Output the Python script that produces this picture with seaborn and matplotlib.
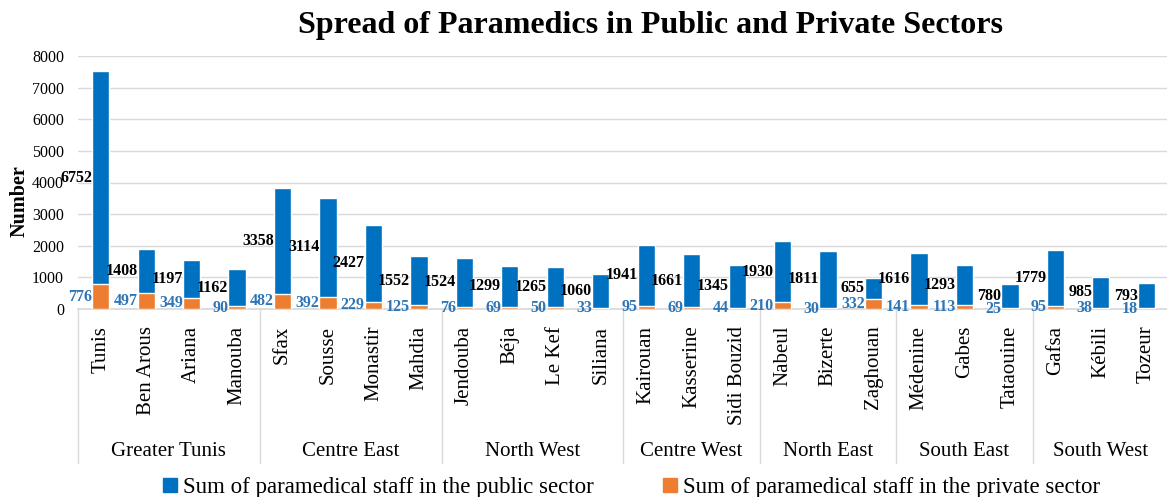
import matplotlib
matplotlib.use("Agg")
import matplotlib.pyplot as plt
import matplotlib.transforms as mtransforms
from matplotlib.lines import Line2D
import pandas as pd
import seaborn as sns

# Governorates grouped by region
regions = ["Greater Tunis", "Centre East", "North West", "Centre West",
           "North East", "South East", "South West"]
region_sizes = [4, 4, 4, 3, 3, 3, 3]
governorates = ["Tunis", "Ben Arous", "Ariana", "Manouba",
                "Sfax", "Sousse", "Monastir", "Mahdia",
                "Jendouba", "Béja", "Le Kef", "Siliana",
                "Kairouan", "Kasserine", "Sidi Bouzid",
                "Nabeul", "Bizerte", "Zaghouan",
                "Médenine", "Gabes", "Tataouine",
                "Gafsa", "Kébili", "Tozeur"]
public_staff = [6752, 1408, 1197, 1162,
                3358, 3114, 2427, 1552,
                1524, 1299, 1265, 1060,
                1941, 1661, 1345,
                1930, 1811, 655,
                1616, 1293, 780,
                1779, 985, 793]
private_staff = [776, 497, 349, 90,
                 482, 392, 229, 125,
                 76, 69, 50, 33,
                 95, 69, 44,
                 210, 30, 332,
                 141, 113, 25,
                 95, 38, 18]
y_ticks = [0, 1000, 2000, 3000, 4000, 5000, 6000, 7000, 8000]

BLUE = "#0070C0"
ORANGE = "#ED7D31"
LABEL_BLUE = "#2E75B6"
GRID = "#D9D9D9"

df = pd.DataFrame({
    "governorate": governorates,
    "public": public_staff,
    "private": private_staff,
})
df["total"] = df["public"] + df["private"]

sns.set_theme(style="white")
plt.rcParams["font.family"] = ["Liberation Serif", "DejaVu Serif"]
plt.rcParams["text.color"] = "black"
plt.rcParams["axes.labelcolor"] = "black"
plt.rcParams["xtick.color"] = "black"
plt.rcParams["ytick.color"] = "black"

fig = plt.figure(figsize=(11.67, 4.97), dpi=100)
ax = fig.add_axes([78 / 1167, 188 / 497, 1091 / 1167, 253 / 497])

bar_w = 0.38
sns.barplot(data=df, x="governorate", y="total", order=governorates,
            color=BLUE, saturation=1, width=bar_w, errorbar=None, ax=ax,
            zorder=3)
sns.barplot(data=df, x="governorate", y="private", order=governorates,
            color=ORANGE, saturation=1, width=bar_w, errorbar=None, ax=ax,
            zorder=3)

ax.set_xlim(-0.5, len(governorates) - 0.5)
ax.set_ylim(0, 8000)
ax.set_yticks(y_ticks)
ax.set_yticklabels([str(t) for t in y_ticks], fontsize=11.5)
ax.yaxis.grid(True, color=GRID, linewidth=1, zorder=0)
ax.set_axisbelow(True)
ax.tick_params(axis="y", length=0, pad=10)
ax.tick_params(axis="x", length=0, pad=12)
ax.set_xticks(range(len(governorates)))
ax.set_xticklabels(governorates, rotation=90, fontsize=15, va="top",
                   ha="center")
ax.set_xlabel("")
ax.set_ylabel("")
for side in ["top", "right", "left"]:
    ax.spines[side].set_visible(False)
ax.spines["bottom"].set_color(GRID)

# Value labels sit just left of each bar
for i, (pub, prv) in enumerate(zip(public_staff, private_staff)):
    x_left = i - bar_w / 2
    ax.text(x_left, prv + pub / 2, f"{pub}", ha="right", va="center",
            fontsize=11.5, fontweight="bold", color="black", zorder=5)
    ax.text(x_left, prv / 2, f"{prv}", ha="right", va="center",
            fontsize=11.5, fontweight="bold", color=LABEL_BLUE, zorder=5)

# Region separators and region names under the governorate labels
trans = mtransforms.blended_transform_factory(ax.transData, ax.transAxes)
sep_bottom = (309 - 463) / 253
start = -0.5
ax.plot([start, start], [0, sep_bottom], color=GRID, lw=1,
        transform=trans, clip_on=False)
for name, size in zip(regions, region_sizes):
    end = start + size
    ax.plot([end, end], [0, sep_bottom], color=GRID, lw=1,
            transform=trans, clip_on=False)
    ax.text((start + end) / 2, (309 - 452) / 253, name, ha="center",
            va="center", fontsize=15, color="black", transform=trans)
    start = end

fig.text(651 / 1167, 1 - 26 / 497,
         "Spread of Paramedics in Public and Private Sectors",
         ha="center", va="center", fontsize=23, fontweight="bold",
         color="black")
fig.text(20 / 1167, 1 - 201 / 497, "Number", rotation=90, ha="center",
         va="center", fontsize=14.5, fontweight="bold", color="black")

handles = [Line2D([], [], marker="s", linestyle="none", markersize=10,
                  color=BLUE),
           Line2D([], [], marker="s", linestyle="none", markersize=10,
                  color=ORANGE)]
leg = fig.legend(handles,
                 ["Sum of paramedical staff in the public sector",
                  "Sum of paramedical staff in the private sector"],
                 loc="center", bbox_to_anchor=(631 / 1167, 1 - 487 / 497),
                 ncol=2, frameon=False, fontsize=16.5, handlelength=0.7,
                 handletextpad=0.2, columnspacing=3.0, borderaxespad=0)
for t in leg.get_texts():
    t.set_color("black")

fig.savefig("out.png", dpi=100)
